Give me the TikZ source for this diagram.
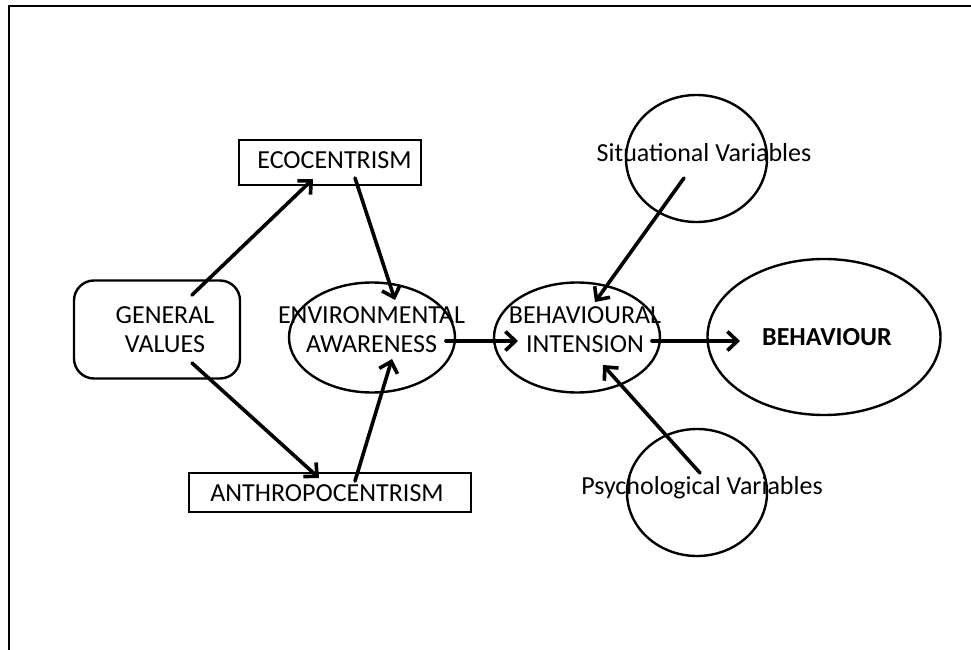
\documentclass[tikz,border=0pt]{standalone}
\usepackage{fontspec}
\setmainfont{Carlito}
\usetikzlibrary{arrows.meta,shapes.geometric,calc}
\begin{document}
\begin{tikzpicture}[x=1pt,y=-1pt,
  lbl/.style={font=\fontsize{26}{29}\selectfont, align=center, inner sep=0pt},
  shp/.style={draw, line width=2.4pt, inner sep=0pt},
  box/.style={shp, rectangle},
  oval/.style={shp, ellipse},
  arr/.style={line width=3.6pt, line cap=round,
    -{Straight Barb[length=10pt,width=19pt]}}
]
\useasboundingbox (0,0) rectangle (971,650);
% page frame (top and left edges)
\draw[line width=2.8pt] (9,650) -- (9,6) -- (971,6);

% shapes
\node[box, rounded corners=20pt, minimum width=166pt, minimum height=98pt] (gv) at (157,329.5) {};
\node[box, minimum width=182pt, minimum height=45pt] (eco) at (330,162.5) {};
\node[box, minimum width=282pt, minimum height=38.5pt] (anth) at (330,492.5) {};
\node[oval, minimum width=166pt, minimum height=110pt] (ea) at (372,337.5) {};
\node[oval, minimum width=166pt, minimum height=110pt] (bi) at (577,337.5) {};
\node[oval, minimum width=233pt, minimum height=156pt] (beh) at (824,337) {};
\node[oval, minimum width=141pt, minimum height=127pt] (sit) at (696.5,158.5) {};
\node[oval, minimum width=140pt, minimum height=127pt] (psy) at (697,492.5) {};

% labels (base anchor = baseline of the last line)
\node[lbl, anchor=base] (gvt) at (165,352.5) {GENERAL\\VALUES};
\node[lbl, anchor=base] (ecot) at (334.5,168.3) {ECOCENTRISM};
\node[lbl, anchor=base] (antht) at (327,501.5) {ANTHROPOCENTRISM};
\node[lbl, anchor=base] (eat) at (371.5,352.5) {ENVIRONMENTAL\\AWARENESS};
\node[lbl, anchor=base] (bit) at (585,352.5) {BEHAVIOURAL\\INTENSION};
\node[lbl, anchor=base, font=\fontsize{26}{29}\selectfont\bfseries] (beht) at (827,345) {BEHAVIOUR};
\node[lbl, anchor=base] (sitt) at (704,161) {Situational Variables};
\node[lbl, anchor=base] (psyt) at (702,494) {Psychological Variables};

% connectors
\draw[arr] ($(gv.center)+(35,-34.5)$) -- ($(eco.center)+(-17,16.5)$);
\draw[arr] ($(eco.center)+(25,15.5)$) -- ($(ea.center)+(23,-37.5)$);
\draw[arr] ($(gv.center)+(35,33.5)$) -- ($(anth.center)+(-11,-14.5)$);
\draw[arr] ($(anth.center)+(25,-11.5)$) -- ($(ea.center)+(20,21.5)$);
\draw[arr] ($(ea.center)+(74,3.5)$) -- ($(bi.center)+(-59,3.5)$);
\draw[arr] ($(bi.center)+(75,3.5)$) -- ($(beh.center)+(-84,4)$);
\draw[arr] ($(sit.center)+(-12.5,19.5)$) -- ($(bi.center)+(18,-35.5)$);
\draw[arr] ($(psy.center)+(3,-19.5)$) -- ($(bi.center)+(26,27.5)$);
\end{tikzpicture}
\end{document}
